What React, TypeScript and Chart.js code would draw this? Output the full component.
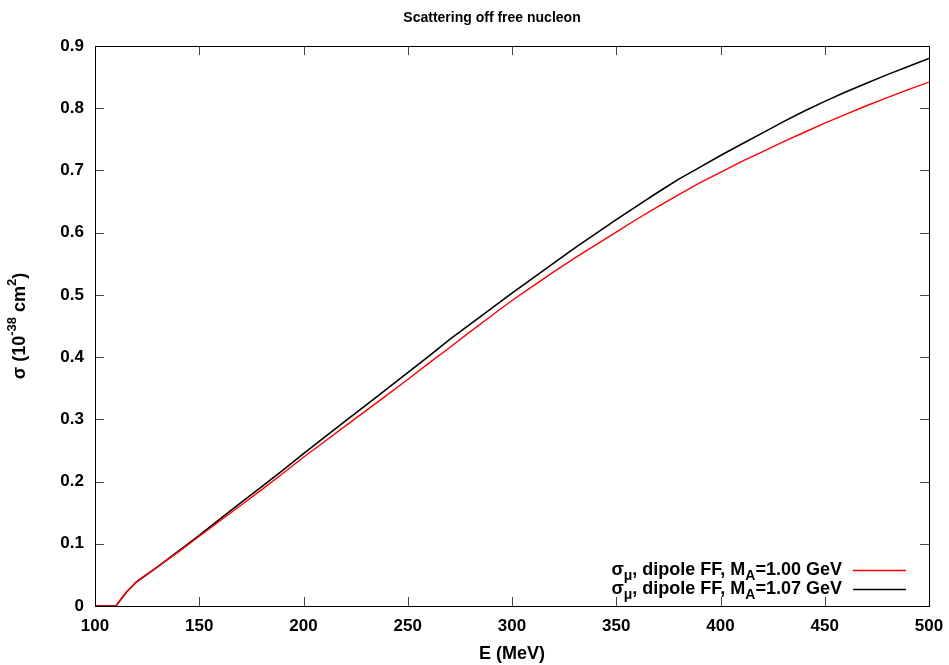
import React, { useEffect, useRef } from "react";
import { Chart, registerables } from "chart.js";

Chart.register(...registerables);

// ---------- data ----------
const energyMeV = [
  100, 105, 110, 115, 120, 125, 130, 140, 150, 160, 170, 180, 190, 200, 210, 220, 230, 240, 250, 260,
  270, 280, 290, 300, 310, 320, 330, 340, 350, 360, 370, 380, 390, 400, 410, 420, 430, 440, 450, 460,
  470, 480, 490, 500,
];
const sigmaMA100 = [
  0, 0, 0, 0.022, 0.039, 0.051, 0.063, 0.087, 0.112, 0.137, 0.162, 0.187, 0.213, 0.239, 0.264, 0.289,
  0.314, 0.339, 0.364, 0.39, 0.415, 0.441, 0.466, 0.491, 0.514, 0.537, 0.559, 0.58, 0.601, 0.622, 0.642,
  0.661, 0.68, 0.697, 0.714, 0.73, 0.746, 0.761, 0.776, 0.79, 0.804, 0.817, 0.83, 0.842,
];
const sigmaMA107 = [
  0, 0, 0, 0.022, 0.039, 0.051, 0.063, 0.088, 0.1135, 0.14, 0.166, 0.192, 0.218, 0.245, 0.271, 0.297,
  0.323, 0.349, 0.375, 0.401, 0.428, 0.453, 0.478, 0.503, 0.527, 0.551, 0.575, 0.598, 0.621, 0.643, 0.665,
  0.686, 0.705, 0.724, 0.742, 0.76, 0.778, 0.795, 0.811, 0.826, 0.84, 0.854, 0.867, 0.88,
];
const xTicks = [100, 150, 200, 250, 300, 350, 400, 450, 500];
const yTicks = [0, 0.1, 0.2, 0.3, 0.4, 0.5, 0.6, 0.7, 0.8, 0.9];
const titleText = "Scattering off free nucleon";
const xLabel = "E (MeV)";
const yLabel = "σ (10^{-38} cm^{2})";
const seriesLabels = ["σ_{μ}, dipole FF, M_{A}=1.00 GeV", "σ_{μ}, dipole FF, M_{A}=1.07 GeV"];
const seriesColors = ["#ff0000", "#000000"];

const FONT = '"Liberation Sans", Arial, Helvetica, sans-serif';

type Part = { t: string; k: number; w?: number };

function parseRich(s: string): Part[] {
  const parts: Part[] = [];
  const re = /([_^])\{([^}]*)\}/g;
  let last = 0;
  let m: RegExpExecArray | null;
  while ((m = re.exec(s))) {
    if (m.index > last) parts.push({ t: s.slice(last, m.index), k: 0 });
    parts.push({ t: m[2], k: m[1] === "^" ? 1 : -1 });
    last = re.lastIndex;
  }
  if (last < s.length) parts.push({ t: s.slice(last), k: 0 });
  return parts;
}

function drawRich(
  ctx: CanvasRenderingContext2D,
  s: string,
  x: number,
  y: number,
  align: string,
  size: number,
  ratio = 0.72
) {
  const parts = parseRich(s);
  const small = Math.round(size * ratio);
  const fontFor = (k: number) => `bold ${k ? small : size}px ${FONT}`;
  let w = 0;
  for (const p of parts) {
    ctx.font = fontFor(p.k);
    p.w = ctx.measureText(p.t).width;
    w += p.w;
  }
  let cx = align === "right" ? x - w : align === "center" ? x - w / 2 : x;
  ctx.textAlign = "left";
  ctx.textBaseline = "middle";
  for (const p of parts) {
    ctx.font = fontFor(p.k);
    const dy = p.k === 1 ? -size * 0.4 : p.k === -1 ? size * 0.32 : 0;
    ctx.fillText(p.t, cx, y + dy);
    cx += p.w || 0;
  }
}

const decorPlugin = {
  id: "decor",
  afterDraw(chart: any) {
    const ctx: CanvasRenderingContext2D = chart.ctx;
    const { left, right, top, bottom } = chart.chartArea;
    const xs = chart.scales.x;
    const ys = chart.scales.y;
    ctx.save();
    // inward ticks on all four sides
    ctx.strokeStyle = "#444";
    ctx.lineWidth = 1;
    const tl = 9;
    ctx.beginPath();
    for (const v of xTicks) {
      const px = Math.round(xs.getPixelForValue(v)) + 0.5;
      ctx.moveTo(px, bottom);
      ctx.lineTo(px, bottom - tl);
      ctx.moveTo(px, top);
      ctx.lineTo(px, top + tl);
    }
    for (const v of yTicks) {
      const py = Math.round(ys.getPixelForValue(v)) + 0.5;
      ctx.moveTo(left, py);
      ctx.lineTo(left + tl, py);
      ctx.moveTo(right, py);
      ctx.lineTo(right - tl, py);
    }
    ctx.stroke();
    // frame
    ctx.strokeStyle = "#000";
    ctx.strokeRect(Math.round(left) + 0.5, Math.round(top) + 0.5, Math.round(right - left), Math.round(bottom - top));
    ctx.fillStyle = "#000";
    // title
    drawRich(ctx, titleText, 492, 18, "center", 14);
    // x label
    drawRich(ctx, xLabel, (left + right) / 2, 654, "center", 18);
    // y label
    ctx.save();
    ctx.translate(20, (top + bottom) / 2);
    ctx.rotate(-Math.PI / 2);
    drawRich(ctx, yLabel, 0, 0, "center", 18);
    ctx.restore();
    // legend
    const rowsY = [570, 589];
    chart.data.datasets.forEach((ds: any, i: number) => {
      ctx.fillStyle = "#000";
      drawRich(ctx, seriesLabels[i], 842, rowsY[i], "right", 18, 0.75);
      ctx.strokeStyle = ds.borderColor;
      ctx.lineWidth = 1.5;
      ctx.beginPath();
      ctx.moveTo(853, rowsY[i] + 0.5);
      ctx.lineTo(906, rowsY[i] + 0.5);
      ctx.stroke();
    });
    ctx.restore();
  },
};

export default function App() {
  const ref = useRef<HTMLCanvasElement | null>(null);
  useEffect(() => {
    document.body.style.margin = "0";
    const canvas = ref.current!;
    const chart = new Chart(canvas, {
      type: "line",
      data: {
        datasets: [
          {
            label: seriesLabels[0],
            data: energyMeV.map((e, i) => ({ x: e, y: sigmaMA100[i] })),
            borderColor: seriesColors[0],
            borderWidth: 1.4,
            pointRadius: 0,
            tension: 0,
            fill: false,
          },
          {
            label: seriesLabels[1],
            data: energyMeV.map((e, i) => ({ x: e, y: sigmaMA107[i] })),
            borderColor: seriesColors[1],
            borderWidth: 1.6,
            pointRadius: 0,
            tension: 0,
            fill: false,
          },
        ],
      },
      options: {
        responsive: false,
        animation: false,
        devicePixelRatio: 1,
        layout: { padding: { left: 0, right: 20, top: 46, bottom: 0 } },
        plugins: { legend: { display: false }, title: { display: false }, tooltip: { enabled: false } },
        scales: {
          x: {
            type: "linear",
            min: 100,
            max: 500,
            afterBuildTicks: (s: any) => {
              s.ticks = xTicks.map((v) => ({ value: v }));
            },
            afterFit: (s: any) => {
              s.height = 59;
              s.paddingLeft = 0;
              s.paddingRight = 0;
            },
            grid: { display: false, drawTicks: false },
            border: { display: false },
            ticks: {
              padding: 10,
              color: "#000",
              maxRotation: 0,
              font: { family: FONT, size: 17, weight: "bold" },
              callback: (v: any) => String(v),
            },
          },
          y: {
            type: "linear",
            min: 0,
            max: 0.9,
            afterBuildTicks: (s: any) => {
              s.ticks = yTicks.map((v) => ({ value: v }));
            },
            afterFit: (s: any) => {
              s.width = 95;
              s.paddingTop = 0;
              s.paddingBottom = 0;
            },
            grid: { display: false, drawTicks: false },
            border: { display: false },
            ticks: {
              padding: 11,
              color: "#000",
              font: { family: FONT, size: 17, weight: "bold" },
              callback: (v: any) => (v === 0 ? "0" : Number(v).toFixed(1)),
            },
          },
        },
      } as any,
      plugins: [decorPlugin],
    });
    return () => chart.destroy();
  }, []);
  return (
    <div style={{ width: 949, height: 665, background: "#fff" }}>
      <canvas ref={ref} width={949} height={665} style={{ display: "block" }} />
    </div>
  );
}
